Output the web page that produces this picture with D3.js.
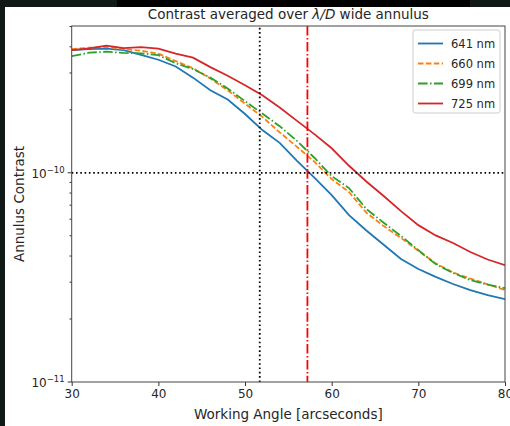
<!DOCTYPE html>
<html>

<head>
  <title>Contrast averaged over annulus</title>
  <meta charset="utf-8">
  <script src="https://d3js.org/d3.v7.min.js"></script>
  <style>
    * {
      font-family: 'DejaVu Sans', sans-serif;
    }

    body {
      margin: 0;
      background-color: #101916;
    }

    .tick-label {
      font-size: 12px;
      fill: #262626;
    }

    .legend-label {
      font-size: 11.5px;
      fill: #262626;
    }

    .axis-label {
      font-size: 13.5px;
      fill: #262626;
    }
  </style>
</head>

<body>
  <svg id="chart"></svg>

  <script type="text/javascript">
    var width = 510;
    var height = 426;

    // working angle [arcseconds]
    var angles = [30, 32, 34, 36, 38, 40, 42, 44, 46, 48, 50, 52, 54, 56, 58, 60, 62, 64, 66, 68, 70, 72, 74, 76, 78, 80];

    // annulus contrast per wavelength
    var c641 = [3.86e-10, 3.90e-10, 3.92e-10, 3.86e-10, 3.66e-10, 3.47e-10, 3.22e-10, 2.85e-10, 2.48e-10, 2.24e-10,
      1.91e-10, 1.60e-10, 1.39e-10, 1.14e-10, 9.49e-11, 7.82e-11, 6.28e-11, 5.30e-11, 4.53e-11, 3.87e-11,
      3.47e-11, 3.18e-11, 2.94e-11, 2.75e-11, 2.60e-11, 2.49e-11];
    var c660 = [3.90e-10, 3.96e-10, 4.00e-10, 3.90e-10, 3.83e-10, 3.71e-10, 3.42e-10, 3.16e-10, 2.82e-10, 2.48e-10,
      2.14e-10, 1.85e-10, 1.56e-10, 1.33e-10, 1.13e-10, 9.33e-11, 8.09e-11, 6.45e-11, 5.56e-11, 4.88e-11,
      4.24e-11, 3.69e-11, 3.34e-11, 3.12e-11, 2.93e-11, 2.75e-11];
    var c699 = [3.61e-10, 3.75e-10, 3.79e-10, 3.74e-10, 3.72e-10, 3.65e-10, 3.34e-10, 3.13e-10, 2.85e-10, 2.53e-10,
      2.20e-10, 1.92e-10, 1.67e-10, 1.42e-10, 1.18e-10, 9.64e-11, 8.45e-11, 6.71e-11, 5.77e-11, 4.99e-11,
      4.27e-11, 3.66e-11, 3.32e-11, 3.07e-11, 2.92e-11, 2.81e-11];
    var c725 = [3.86e-10, 3.93e-10, 4.05e-10, 3.94e-10, 3.99e-10, 3.92e-10, 3.71e-10, 3.55e-10, 3.20e-10, 2.91e-10,
      2.62e-10, 2.35e-10, 2.05e-10, 1.77e-10, 1.53e-10, 1.31e-10, 1.08e-10, 9.09e-11, 7.74e-11, 6.56e-11,
      5.62e-11, 5.02e-11, 4.62e-11, 4.18e-11, 3.85e-11, 3.62e-11];

    var seriesNames = ["641 nm", "660 nm", "699 nm", "725 nm"];
    var seriesColors = ["#1f77b4", "#ff7f0e", "#2ca02c", "#d62728"];
    var seriesDash = [null, "5.5,2.4", "9.6,2.4,1.5,2.4", null];

    var xTicks = [30, 40, 50, 60, 70, 80];
    var xDomain = [30, 80];
    var yDomain = [1e-11, 5.03e-10];

    // reference lines
    var innerAngle = 51.7;
    var iwaAngle = 57.2;
    var contrastGoal = 1e-10;

    var margin = { left: 71.7, right: 5, top: 26, bottom: 44 };

    var svg = d3.select("#chart").attr("width", width).attr("height", height)
      .style("display", "block");

    // screenshot frame: dark edges round a white figure
    svg.append("rect").attr("x", 0).attr("y", 0).attr("width", width).attr("height", height).attr("fill", "#101916");
    svg.append("rect").attr("x", 117).attr("y", 0).attr("width", 353).attr("height", 7).attr("fill", "#000");
    svg.append("rect").attr("x", 5).attr("y", 7).attr("width", width - 5).attr("height", height - 7).attr("fill", "#fff");

    var x = d3.scaleLinear().domain(xDomain).range([margin.left, width - margin.right]);
    var y = d3.scaleLog().domain(yDomain).range([height - margin.bottom, margin.top]);

    svg.append("clipPath").attr("id", "plot-clip")
      .append("rect")
      .attr("x", margin.left).attr("y", margin.top)
      .attr("width", x.range()[1] - x.range()[0])
      .attr("height", y.range()[0] - y.range()[1]);

    var plot = svg.append("g").attr("clip-path", "url(#plot-clip)");

    var series = [c641, c660, c699, c725].map((vals, i) => ({
      name: seriesNames[i],
      color: seriesColors[i],
      dash: seriesDash[i],
      points: angles.map((a, j) => [a, vals[j]])
    }));

    var line = d3.line().x(d => x(d[0])).y(d => y(d[1]));

    plot.selectAll(".curve")
      .data(series)
      .enter().append("path")
      .attr("class", "curve")
      .attr("d", d => line(d.points))
      .attr("fill", "none")
      .attr("stroke", d => d.color)
      .attr("stroke-width", 1.8)
      .attr("stroke-dasharray", d => d.dash);

    // dotted guides and the red dash-dot line
    plot.append("line")
      .attr("x1", x(innerAngle)).attr("x2", x(innerAngle))
      .attr("y1", y.range()[0]).attr("y2", y.range()[1])
      .attr("stroke", "#000").attr("stroke-width", 1.8).attr("stroke-dasharray", "1.6,2.7");
    plot.append("line")
      .attr("x1", x.range()[0]).attr("x2", x.range()[1])
      .attr("y1", y(contrastGoal)).attr("y2", y(contrastGoal))
      .attr("stroke", "#000").attr("stroke-width", 1.8).attr("stroke-dasharray", "1.6,2.7");
    plot.append("line")
      .attr("x1", x(iwaAngle)).attr("x2", x(iwaAngle))
      .attr("y1", y.range()[1]).attr("y2", y.range()[0])
      .attr("stroke", "#ff0000").attr("stroke-width", 1.8).attr("stroke-dasharray", "9.6,2.4,1.5,2.4");

    // axes
    var xAxis = svg.append("g")
      .attr("transform", `translate(0,${y.range()[0]})`)
      .call(d3.axisBottom(x).tickValues(xTicks).tickSize(4).tickPadding(3).tickFormat(d3.format("d")));
    xAxis.select(".domain").remove();
    xAxis.selectAll("line").attr("stroke", "#333");
    xAxis.selectAll("text").attr("class", "tick-label").attr("dy", "0.78em");

    var allY = y.ticks().filter(v => v >= yDomain[0] && v <= yDomain[1]);
    var majorY = allY.filter(v => Math.abs(Math.log10(v) - Math.round(Math.log10(v))) < 1e-6);

    var yAxis = svg.append("g");
    yAxis.selectAll("line")
      .data(allY)
      .enter().append("line")
      .attr("x1", x.range()[0])
      .attr("x2", d => x.range()[0] - (majorY.includes(d) ? 4 : 2.2))
      .attr("y1", d => y(d)).attr("y2", d => y(d))
      .attr("stroke", "#333").attr("stroke-width", 1);

    var yLabels = yAxis.selectAll("text")
      .data(majorY)
      .enter().append("text")
      .attr("class", "tick-label")
      .attr("text-anchor", "end")
      .attr("x", x.range()[0] - 7)
      .attr("y", d => y(d) + 5);
    yLabels.append("tspan").text("10");
    yLabels.append("tspan")
      .attr("dy", -5)
      .attr("font-size", "8.5px")
      .text(d => "\u2212" + Math.abs(Math.round(Math.log10(d))));

    // frame
    svg.append("rect")
      .attr("x", x.range()[0]).attr("y", y.range()[1])
      .attr("width", x.range()[1] - x.range()[0])
      .attr("height", y.range()[0] - y.range()[1])
      .attr("fill", "none").attr("stroke", "#444").attr("stroke-width", 1);

    // titles
    var title = svg.append("text")
      .attr("class", "axis-label")
      .attr("x", (x.range()[0] + x.range()[1]) / 2)
      .attr("y", 19)
      .attr("text-anchor", "middle");
    title.append("tspan").text("Contrast averaged over ");
    title.append("tspan").attr("font-style", "italic").text("\u03bb/D");
    title.append("tspan").text(" wide annulus");

    svg.append("text")
      .attr("class", "axis-label")
      .attr("x", (x.range()[0] + x.range()[1]) / 2)
      .attr("y", 419)
      .attr("text-anchor", "middle")
      .text("Working Angle [arcseconds]");

    svg.append("text")
      .attr("class", "axis-label")
      .attr("transform", `translate(24,${(y.range()[0] + y.range()[1]) / 2}) rotate(-90)`)
      .attr("text-anchor", "middle")
      .text("Annulus Contrast");

    // legend
    var legend = svg.append("g").attr("transform", "translate(413,30)");
    legend.append("rect")
      .attr("width", 87).attr("height", 83)
      .attr("rx", 2.5)
      .attr("fill", "#fff").attr("stroke", "#ccc").attr("stroke-width", 1);

    var entries = legend.selectAll(".entry")
      .data(series)
      .enter().append("g")
      .attr("class", "entry")
      .attr("transform", (d, i) => `translate(0,${13.5 + i * 20})`);

    entries.append("line")
      .attr("x1", 5).attr("x2", 30)
      .attr("stroke", d => d.color)
      .attr("stroke-width", 1.8)
      .attr("stroke-dasharray", d => d.dash);

    entries.append("text")
      .attr("class", "legend-label")
      .attr("x", 38)
      .attr("y", 4)
      .text(d => d.name);
  </script>
</body>

</html>
